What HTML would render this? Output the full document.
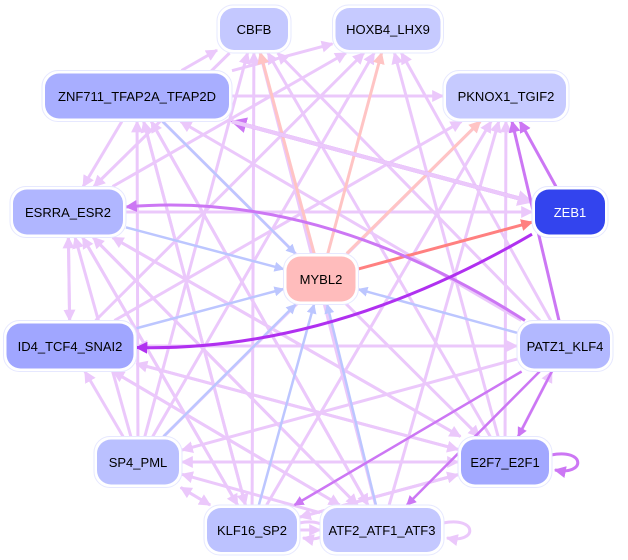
<!DOCTYPE html>
<html><head><meta charset="utf-8">
<style>
html,body{margin:0;padding:0;background:#fff;}
svg{display:block;}
text{font-family:"Liberation Sans",sans-serif;font-size:13px;}
</style></head>
<body>
<svg id="g" width="628" height="560" xmlns="http://www.w3.org/2000/svg">
<defs></defs>
<g id="edges"></g>
<g id="nodes"></g>
</svg>
<script>
var N={
CBFB:[254,29,68,42,"#c4c8ff"],
HOXB4_LHX9:[388,29,105,42,"#c6caff"],
ZNF711_TFAP2A_TFAP2D:[137,96,184,45,"#a8aeff"],
PKNOX1_TGIF2:[506,96,120,45,"#c6caff"],
ESRRA_ESR2:[68,212,110,45,"#b0b6ff"],
ZEB1:[570,212,70,45,"#3344ee"],
MYBL2:[321,279,69,45,"#ffbcbc"],
ID4_TCF4_SNAI2:[70,346,127,45,"#a0a6ff"],
PATZ1_KLF4:[565,346,90,45,"#b2b8ff"],
SP4_PML:[138,462,82,45,"#bac0ff"],
E2F7_E2F1:[505,462,88,45,"#a2a8ff"],
KLF16_SP2:[252,530,90,44,"#bcc2ff"],
ATF2_ATF1_ATF3:[382,530,118,44,"#c4c8ff"]
};
var L="#ebc8fb",B="#bcc6ff",P="#ffc4c4",S="#ff8080",D="#cc77f4",V="#b030f0";
var E=[
["ZNF711_TFAP2A_TFAP2D","CBFB",L,3],["ZNF711_TFAP2A_TFAP2D","PKNOX1_TGIF2",L,3],["ZNF711_TFAP2A_TFAP2D","ESRRA_ESR2",L,3],
["ESRRA_ESR2","ZEB1",L,3],["ESRRA_ESR2","ID4_TCF4_SNAI2",L,3],["ID4_TCF4_SNAI2","ESRRA_ESR2",L,3],
["ID4_TCF4_SNAI2","PATZ1_KLF4",L,3],["ID4_TCF4_SNAI2","PKNOX1_TGIF2",L,3],["ID4_TCF4_SNAI2","HOXB4_LHX9",L,3],
["SP4_PML","ZNF711_TFAP2A_TFAP2D",L,3],["SP4_PML","ID4_TCF4_SNAI2",L,3],["SP4_PML","CBFB",L,3],["SP4_PML","HOXB4_LHX9",L,3],
["SP4_PML","PKNOX1_TGIF2",L,3],["SP4_PML","E2F7_E2F1",L,3],["SP4_PML","ESRRA_ESR2",L,3],["SP4_PML","KLF16_SP2",L,3],
["KLF16_SP2","SP4_PML",L,3],["KLF16_SP2","ZNF711_TFAP2A_TFAP2D",L,3],["KLF16_SP2","CBFB",L,3],["KLF16_SP2","ESRRA_ESR2",L,3],
["KLF16_SP2","PKNOX1_TGIF2",L,3],["KLF16_SP2","E2F7_E2F1",L,3],["KLF16_SP2","ATF2_ATF1_ATF3",L,3],
["ATF2_ATF1_ATF3","ZNF711_TFAP2A_TFAP2D",L,3],["ATF2_ATF1_ATF3","CBFB",L,3],["ATF2_ATF1_ATF3","PKNOX1_TGIF2",L,3],
["ATF2_ATF1_ATF3","ESRRA_ESR2",L,3],["ATF2_ATF1_ATF3","SP4_PML",L,3],["ATF2_ATF1_ATF3","ID4_TCF4_SNAI2",L,3],
["E2F7_E2F1","ESRRA_ESR2",L,3],["E2F7_E2F1","CBFB",L,3],["E2F7_E2F1","HOXB4_LHX9",L,3],["E2F7_E2F1","PKNOX1_TGIF2",L,3],
["E2F7_E2F1","SP4_PML",L,3],["E2F7_E2F1","KLF16_SP2",L,3],["E2F7_E2F1","ID4_TCF4_SNAI2",L,3],
["PATZ1_KLF4","ZNF711_TFAP2A_TFAP2D",L,3],["PATZ1_KLF4","CBFB",L,3],["PATZ1_KLF4","HOXB4_LHX9",L,3],["PATZ1_KLF4","ID4_TCF4_SNAI2",L,3],
["PATZ1_KLF4","SP4_PML",L,3],["ESRRA_ESR2","HOXB4_LHX9",L,3],["ESRRA_ESR2","ATF2_ATF1_ATF3",L,3],["ESRRA_ESR2","E2F7_E2F1",L,3],
["ESRRA_ESR2","KLF16_SP2",L,3],["ZNF711_TFAP2A_TFAP2D","ATF2_ATF1_ATF3",L,3],["ZNF711_TFAP2A_TFAP2D","KLF16_SP2",L,3],
["ZNF711_TFAP2A_TFAP2D","E2F7_E2F1",L,3],["ZNF711_TFAP2A_TFAP2D","HOXB4_LHX9",L,3],["CBFB","ESRRA_ESR2",L,3],
["ID4_TCF4_SNAI2","ATF2_ATF1_ATF3",L,3],["ID4_TCF4_SNAI2","E2F7_E2F1",L,3],["E2F7_E2F1","PATZ1_KLF4",L,3],
["ZNF711_TFAP2A_TFAP2D","MYBL2",B,2.5],["ESRRA_ESR2","MYBL2",B,2.5],["ID4_TCF4_SNAI2","MYBL2",B,2.5],
["SP4_PML","MYBL2",B,2.5],["KLF16_SP2","MYBL2",B,2.5],["ATF2_ATF1_ATF3","MYBL2",B,2.5],["PATZ1_KLF4","MYBL2",B,2.5],
["MYBL2","CBFB",P,3],["MYBL2","HOXB4_LHX9",P,3],["MYBL2","PKNOX1_TGIF2",P,3],
["MYBL2","ZEB1",S,3],
["ZEB1","ZNF711_TFAP2A_TFAP2D",D,4],["ZNF711_TFAP2A_TFAP2D","ZEB1",L,4],
["ZEB1","PKNOX1_TGIF2",D,3],["PATZ1_KLF4","PKNOX1_TGIF2",D,3],
["PATZ1_KLF4","ATF2_ATF1_ATF3",D,2.5],["PATZ1_KLF4","KLF16_SP2",D,2.5],["PATZ1_KLF4","E2F7_E2F1",D,2.5],
["PATZ1_KLF4","ESRRA_ESR2",D,3,[320,190]],
["ZEB1","ID4_TCF4_SNAI2",V,3,[330,352]]
];
var ns="http://www.w3.org/2000/svg",eg=document.getElementById("edges"),ng=document.getElementById("nodes"),defs=document.querySelector("defs");
var mk={},mi=0;
function marker(c){if(mk[c])return mk[c];var id="m"+(mi++);var m=document.createElementNS(ns,"marker");
m.setAttribute("id",id);m.setAttribute("viewBox","0 0 10 10");m.setAttribute("refX","9");m.setAttribute("refY","5");
m.setAttribute("markerWidth","4");m.setAttribute("markerHeight","4");m.setAttribute("orient","auto");m.setAttribute("markerUnits","strokeWidth");
var p=document.createElementNS(ns,"path");p.setAttribute("d","M0,0L10,5L0,10z");p.setAttribute("fill",c);m.appendChild(p);defs.appendChild(m);mk[c]=id;return id;}
function clip(n,dx,dy){var hw=n[2]/2+3,hh=n[3]/2+3;return Math.min(Math.abs(dx)>0?hw/Math.abs(dx):1e9,Math.abs(dy)>0?hh/Math.abs(dy):1e9);}
E.forEach(function(e){var a=N[e[0]],b=N[e[1]],el;
if(e[4]){var c=e[4];
var d1x=c[0]-a[0],d1y=c[1]-a[1],t1=clip(a,d1x,d1y);
var d2x=c[0]-b[0],d2y=c[1]-b[1],t2=clip(b,d2x,d2y);
el=document.createElementNS(ns,"path");
el.setAttribute("d","M"+(a[0]+d1x*t1)+","+(a[1]+d1y*t1)+" Q"+c[0]+","+c[1]+" "+(b[0]+d2x*t2)+","+(b[1]+d2y*t2));
el.setAttribute("fill","none");
}else{
var dx=b[0]-a[0],dy=b[1]-a[1];var t1=clip(a,dx,dy),t2=clip(b,-dx,-dy);
el=document.createElementNS(ns,"line");
el.setAttribute("x1",a[0]+dx*t1);el.setAttribute("y1",a[1]+dy*t1);el.setAttribute("x2",b[0]-dx*t2);el.setAttribute("y2",b[1]-dy*t2);}
el.setAttribute("stroke",e[2]);el.setAttribute("stroke-width",e[3]);el.setAttribute("marker-end","url(#"+marker(e[2])+")");
eg.appendChild(el);});
[["E2F7_E2F1",D],["ATF2_ATF1_ATF3",L],["KLF16_SP2",L]].forEach(function(s){var n=N[s[0]];var x=n[0]+n[2]/2+2,y=n[1];
var p=document.createElementNS(ns,"path");p.setAttribute("d","M"+x+","+(y-7)+" C"+(x+35)+","+(y-14)+" "+(x+35)+","+(y+14)+" "+(x+4)+","+(y+8));
p.setAttribute("fill","none");p.setAttribute("stroke",s[1]);p.setAttribute("stroke-width","3");p.setAttribute("marker-end","url(#"+marker(s[1])+")");eg.appendChild(p);});
for(var k in N){var n=N[k];
var o=document.createElementNS(ns,"rect");o.setAttribute("x",n[0]-n[2]/2-3);o.setAttribute("y",n[1]-n[3]/2-3);o.setAttribute("width",n[2]+6);o.setAttribute("height",n[3]+6);
o.setAttribute("rx",16);o.setAttribute("fill","#fff");o.setAttribute("stroke","#e6e8ff");o.setAttribute("stroke-width","1");ng.appendChild(o);
var r=document.createElementNS(ns,"rect");r.setAttribute("x",n[0]-n[2]/2);r.setAttribute("y",n[1]-n[3]/2);r.setAttribute("width",n[2]);r.setAttribute("height",n[3]);
r.setAttribute("rx",14);r.setAttribute("fill",n[4]);ng.appendChild(r);
var t=document.createElementNS(ns,"text");t.setAttribute("x",n[0]);t.setAttribute("y",n[1]+5);t.setAttribute("text-anchor","middle");
t.setAttribute("fill",k=="ZEB1"?"#fff":"#000");t.textContent=k;ng.appendChild(t);}
</script>
</body></html>
